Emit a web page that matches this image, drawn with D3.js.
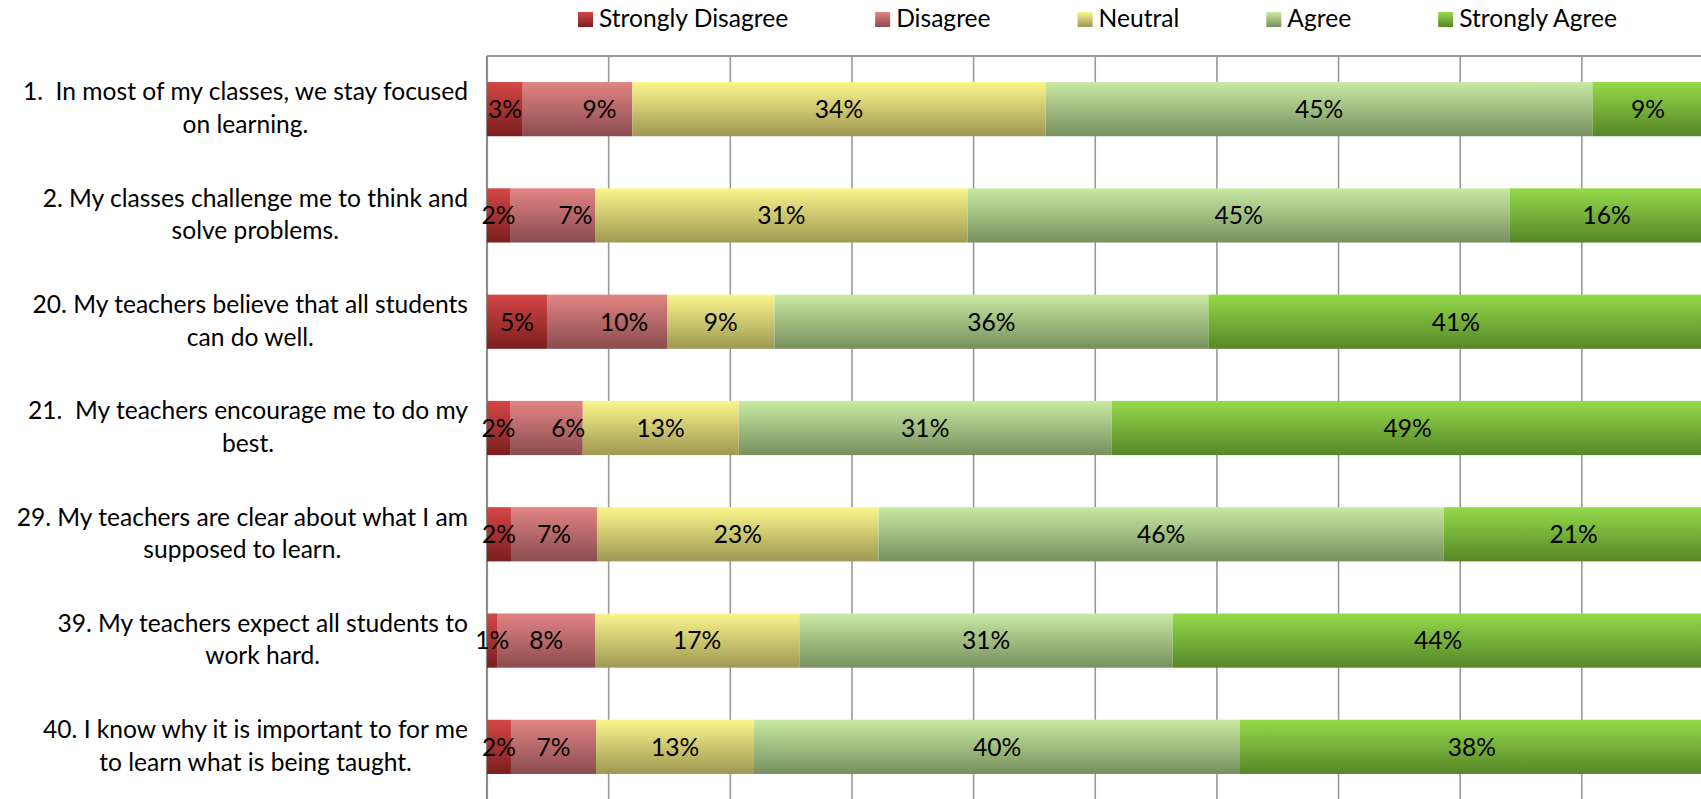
<!DOCTYPE html>
<html>
<head>
<meta charset="utf-8">
<script src="https://cdn.jsdelivr.net/npm/d3@7"></script>
<style>
  html, body { margin: 0; padding: 0; background: #fff; overflow: hidden; }
  svg text { font-family: Lato, "Open Sans", sans-serif; fill: #000; white-space: pre; }
</style>
</head>
<body>
<svg id="chart" width="1701" height="799"></svg>
<script>
// Survey items (line break where the label wraps)
const questions = [
  "1.  In most of my classes, we stay focused\non learning.",
  "2. My classes challenge me to think and\nsolve problems.",
  "20. My teachers believe that all students\ncan do well.",
  "21.  My teachers encourage me to do my\nbest.",
  "29. My teachers are clear about what I am\nsupposed to learn.",
  "39. My teachers expect all students to\nwork hard.",
  "40. I know why it is important to for me\nto learn what is being taught."
];

const responseLevels = ["Strongly Disagree", "Disagree", "Neutral", "Agree", "Strongly Agree"];

// Share of responses (%) per item
const stronglyDisagree = [2.94, 1.89, 4.93, 1.89, 1.97, 0.88, 1.97];
const disagree         = [9.01, 6.99, 9.87, 5.98, 7.07, 8.00, 6.99];
const neutral          = [33.97, 30.62, 8.83, 12.82, 23.15, 16.80, 12.99];
const agree            = [44.95, 44.59, 35.67, 30.67, 46.46, 30.68, 39.95];
const stronglyAgree    = [9.13, 15.91, 40.70, 48.64, 21.35, 43.64, 38.10];

const xTicks = [0, 10, 20, 30, 40, 50, 60, 70, 80, 90, 100];

// ---- build table for the stack layout ----
const seriesValues = [stronglyDisagree, disagree, neutral, agree, stronglyAgree];
const table = questions.map((q, i) => {
  const row = { question: q };
  responseLevels.forEach((lvl, k) => { row[lvl] = seriesValues[k][i]; });
  return row;
});

const gradientStops = {
  "Strongly Disagree": ["#d64646", "#7a1e1e"],
  "Disagree":          ["#e28484", "#8a4c4e"],
  "Neutral":           ["#faf68c", "#9e9852"],
  "Agree":             ["#c8eaa2", "#778f5e"],
  "Strongly Agree":    ["#94da4a", "#578628"]
};

// Label nudges (px) for the Disagree labels on the first four items
const labelNudge = { "Disagree": [22, 23, 17, 22, 0, 0, 0] };

const fontSize = "24.6px";

const svg = d3.select("#chart");
const plot = { left: 487, right: 1703.5, top: 56, bottom: 800 };

const x = d3.scaleLinear().domain([0, 100]).range([plot.left, plot.right]);
const y = d3.scaleBand()
  .domain(questions)
  .range([plot.top, plot.bottom])
  .paddingInner(0.49)
  .paddingOuter(0.245);

// gradients
const defs = svg.append("defs");
responseLevels.forEach((lvl, k) => {
  const g = defs.append("linearGradient")
    .attr("id", "grad" + k)
    .attr("x1", 0).attr("y1", 0).attr("x2", 0).attr("y2", 1);
  g.append("stop").attr("offset", "0%").attr("stop-color", gradientStops[lvl][0]);
  g.append("stop").attr("offset", "100%").attr("stop-color", gradientStops[lvl][1]);
});

// plot frame: top border and vertical gridlines
svg.append("line")
  .attr("x1", plot.left).attr("x2", plot.right)
  .attr("y1", plot.top).attr("y2", plot.top)
  .attr("stroke", "#999").attr("stroke-width", 2);

svg.append("g").selectAll("line")
  .data(xTicks)
  .join("line")
  .attr("x1", d => x(d)).attr("x2", d => x(d))
  .attr("y1", plot.top).attr("y2", plot.bottom)
  .attr("stroke", d => d === 0 ? "#8c8c8c" : "#999")
  .attr("stroke-width", d => d === 0 ? 2.2 : 1.6);

// stacked bars
const stacked = d3.stack().keys(responseLevels)(table);

const layers = svg.append("g").selectAll("g")
  .data(stacked)
  .join("g")
  .attr("fill", (d, k) => `url(#grad${k})`);

layers.selectAll("rect")
  .data(d => d)
  .join("rect")
  .attr("x", d => x(d[0]))
  .attr("width", d => x(d[1]) - x(d[0]))
  .attr("y", d => y(d.data.question))
  .attr("height", y.bandwidth());

// value labels
const fmt = v => d3.format(".0f")(v) + "%";
const labelLayers = svg.append("g").selectAll("g")
  .data(stacked)
  .join("g");

labelLayers.selectAll("text")
  .data(d => d.map((p, i) => ({ p, i, key: d.key })))
  .join("text")
  .attr("x", d => x((d.p[0] + d.p[1]) / 2) + ((labelNudge[d.key] || [])[d.i] || 0))
  .attr("y", d => y(d.p.data.question) + y.bandwidth() / 2)
  .attr("dy", "0.36em")
  .attr("text-anchor", "middle")
  .style("font-size", fontSize)
  .text(d => fmt(d.p[1] - d.p[0]));

// category labels (wrapped, centred as a block, block right-aligned)
const labelRight = 468;
const lineHeight = 32.6;
const catG = svg.append("g");
questions.forEach(q => {
  const lines = q.split("\n");
  const cy = y(q) + y.bandwidth() / 2;
  const t = catG.append("text").style("font-size", fontSize).attr("text-anchor", "middle");
  const spans = lines.map((ln, j) =>
    t.append("tspan")
      .attr("y", cy + (j - (lines.length - 1) / 2) * lineHeight + 7.6)
      .text(ln));
  const maxW = d3.max(spans, s => s.node().getComputedTextLength());
  spans.forEach(s => s.attr("x", labelRight - maxW / 2));
});

// legend
const legend = svg.append("g");
let lx = 578;
responseLevels.forEach((lvl, k) => {
  legend.append("rect")
    .attr("x", lx).attr("y", 12)
    .attr("width", 15).attr("height", 15)
    .attr("fill", `url(#grad${k})`);
  const t = legend.append("text")
    .attr("x", lx + 21).attr("y", 27)
    .style("font-size", fontSize)
    .text(lvl);
  lx += 21 + t.node().getComputedTextLength() + 87;
});
</script>
</body>
</html>
